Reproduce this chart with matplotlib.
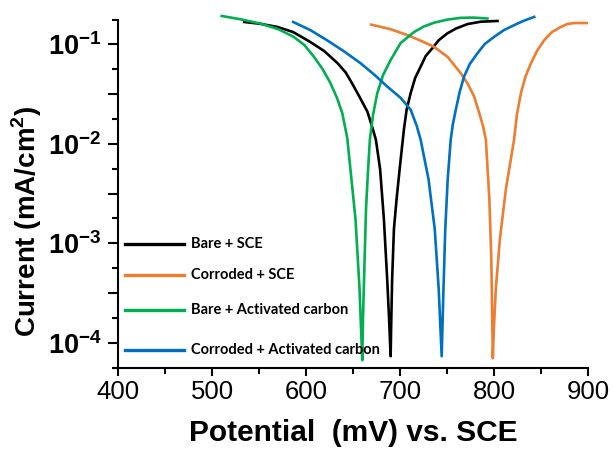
import numpy as np
import matplotlib
matplotlib.use("Agg")
import matplotlib.pyplot as plt
from matplotlib.ticker import FixedLocator, FuncFormatter, NullFormatter
from matplotlib.lines import Line2D

plt.rcParams['font.family'] = ['Liberation Sans', 'DejaVu Sans']
plt.rcParams['mathtext.fontset'] = 'custom'
plt.rcParams['mathtext.rm'] = 'Liberation Sans'
plt.rcParams['mathtext.bf'] = 'Liberation Sans:bold'

# ---- data (potential in mV vs SCE, current in mA/cm2) ----
bare_sce_E = [534, 551, 569, 586, 604, 619, 633, 642, 650, 658, 665, 669.4, 674, 678.5, 682.5, 686, 688, 689.7,
              690.2, 691.3, 693.2, 696, 699.8, 703.8, 706.7, 711, 715.8, 721.6, 727, 734, 740.8, 750, 759,
              771.4, 785.6, 803.4]
bare_sce_I = [0.168, 0.161, 0.150, 0.133, 0.106, 0.0857, 0.0650, 0.0520, 0.0385, 0.0280, 0.0210, 0.0155,
              0.0110, 0.00553, 0.00175, 4.4e-4, 1.75e-4, 7.3e-5,
              1.39e-4, 4.4e-4, 1.39e-3, 2.77e-3, 6.2e-3, 0.0139, 0.0220, 0.0324, 0.0460, 0.0597, 0.0764,
              0.0912, 0.110, 0.129, 0.144, 0.160, 0.169, 0.172]

corr_sce_E = [669, 689.7, 707.5, 721.6, 735.8, 750.4, 764.3, 771.7, 778.5, 784.5, 788, 791, 794.7, 796.8, 798.4,
              799.5, 801.6, 805.9, 812.3, 821, 824, 828.3, 833, 839, 845.3, 853, 861.3, 871, 877.3, 885, 898.3]
corr_sce_I = [0.158, 0.142, 0.124, 0.109, 0.0946, 0.0746, 0.0513, 0.0401, 0.0299, 0.0196, 0.0150, 0.0110,
              2.77e-3, 7.0e-4, 6.97e-5,
              1.39e-4, 3.5e-4, 1.1e-3, 3.5e-3, 0.0110, 0.0196, 0.0324, 0.0471, 0.0646, 0.0857, 0.110, 0.133,
              0.150, 0.160, 0.164, 0.164]

bare_ac_E = [510, 529.7, 551, 570.3, 586.6, 598, 608, 617.2, 625.7, 632.6, 638.2, 643.5, 648, 652.3, 656.6,
             659.5, 660.3, 662, 663.5, 665.7, 667.6, 671, 675.5, 681.7, 689.7, 700.3, 714.5, 724.8, 735.8,
             749.4, 764.3, 778, 792.7]
bare_ac_I = [0.193, 0.179, 0.162, 0.142, 0.119, 0.0984, 0.0752, 0.0566, 0.0407, 0.0290, 0.0204, 0.0115,
             4.4e-3, 1.75e-3, 3.5e-4, 6.65e-5,
             1.75e-4, 7.0e-4, 2.2e-3, 5.53e-3, 0.0110, 0.0196, 0.0324, 0.0493, 0.0697, 0.103, 0.133, 0.151,
             0.165, 0.177, 0.185, 0.186, 0.182]

corr_ac_E = [586, 604.4, 622, 639.6, 657.7, 672.6, 686, 700.3, 711, 717.4, 721.6, 730, 736.6, 740.8, 744,
             745.6, 747.8, 750.4, 753.6, 755.8, 759, 763.2, 767.8, 773.9, 782, 789.9, 799.8, 810.1, 821,
             831.4, 842.4]
corr_ac_I = [0.168, 0.139, 0.110, 0.0857, 0.0646, 0.0493, 0.0377, 0.0290, 0.0220, 0.0152, 0.0110, 4.4e-3,
             1.39e-3, 3.5e-4, 7.3e-5,
             2.77e-4, 1.39e-3, 4.4e-3, 0.0110, 0.0156, 0.0220, 0.0334, 0.0474, 0.0635, 0.0813, 0.101,
             0.119, 0.139, 0.156, 0.173, 0.189]

labels = ["Bare + SCE", "Corroded + SCE", "Bare + Activated carbon", "Corroded + Activated carbon"]
colors = ["#000000", "#ED7D31", "#00B050", "#0070C0"]

fig = plt.figure(figsize=(6.14, 4.55), dpi=100)
ax = fig.add_axes([0.1927, 0.1923, 0.7655, 0.7648])

series = [(bare_sce_E, bare_sce_I), (corr_sce_E, corr_sce_I),
          (bare_ac_E, bare_ac_I), (corr_ac_E, corr_ac_I)]
for (E, I), c in zip(series, colors):
    ax.plot(E, I, color=c, lw=1.9, clip_on=False, solid_joinstyle='round')

ax.set_yscale('log')
ax.set_xlim(400, 900)
ax.set_ylim(10**-4.25, 10**-0.75)

ax.spines['top'].set_visible(False)
ax.spines['right'].set_visible(False)
for s in ('left', 'bottom'):
    ax.spines[s].set_linewidth(1.5)

# y ticks: majors at half decades, labels at decades, minors at quarter decades
ymaj = [10**e for e in np.arange(-4.0, -0.9, 0.5)]
ymin = [10**e for e in np.arange(-4.25, -0.70, 0.5)]
ax.yaxis.set_major_locator(FixedLocator(ymaj))
ax.yaxis.set_minor_locator(FixedLocator(ymin))
def yfmt(v, pos):
    e = np.log10(v)
    if abs(e - round(e)) < 1e-6:
        return r'$\mathbf{10^{%d}}$' % int(round(e))
    return ''
ax.yaxis.set_major_formatter(FuncFormatter(yfmt))
ax.yaxis.set_minor_formatter(NullFormatter())
ax.tick_params(axis='y', which='major', length=7, width=1.5, direction='out', labelsize=19.5, pad=5)
ax.tick_params(axis='y', which='minor', length=4, width=1.5, direction='out')

ax.set_xticks([400, 500, 600, 700, 800, 900])
ax.set_xticks([450, 550, 650, 750, 850], minor=True)
ax.tick_params(axis='x', which='major', length=6, width=1.5, direction='out', labelsize=18.5, pad=3)
ax.tick_params(axis='x', which='minor', length=4, width=1.5, direction='out')

ax.set_xlabel("Potential  (mV) vs. SCE", fontsize=21.5, fontweight='bold', labelpad=11)
ax.set_ylabel(r"Current (mA/cm$^\mathbf{2}$)", fontsize=20, fontweight='bold')
ax.yaxis.set_label_coords(-0.158, 0.42)

# legend drawn manually to keep its uneven row spacing
leg_y = [0.356, 0.267, 0.164, 0.049]
for lab, c, yy in zip(labels, colors, leg_y):
    ax.add_line(Line2D([0.015, 0.14], [yy, yy], transform=ax.transAxes, color=c, lw=2.4))
    ax.text(0.155, yy, lab, transform=ax.transAxes, va='center', ha='left',
            fontsize=10.5, fontweight='bold', family=['Lato', 'DejaVu Sans'])

fig.savefig("out.png", dpi=100)
